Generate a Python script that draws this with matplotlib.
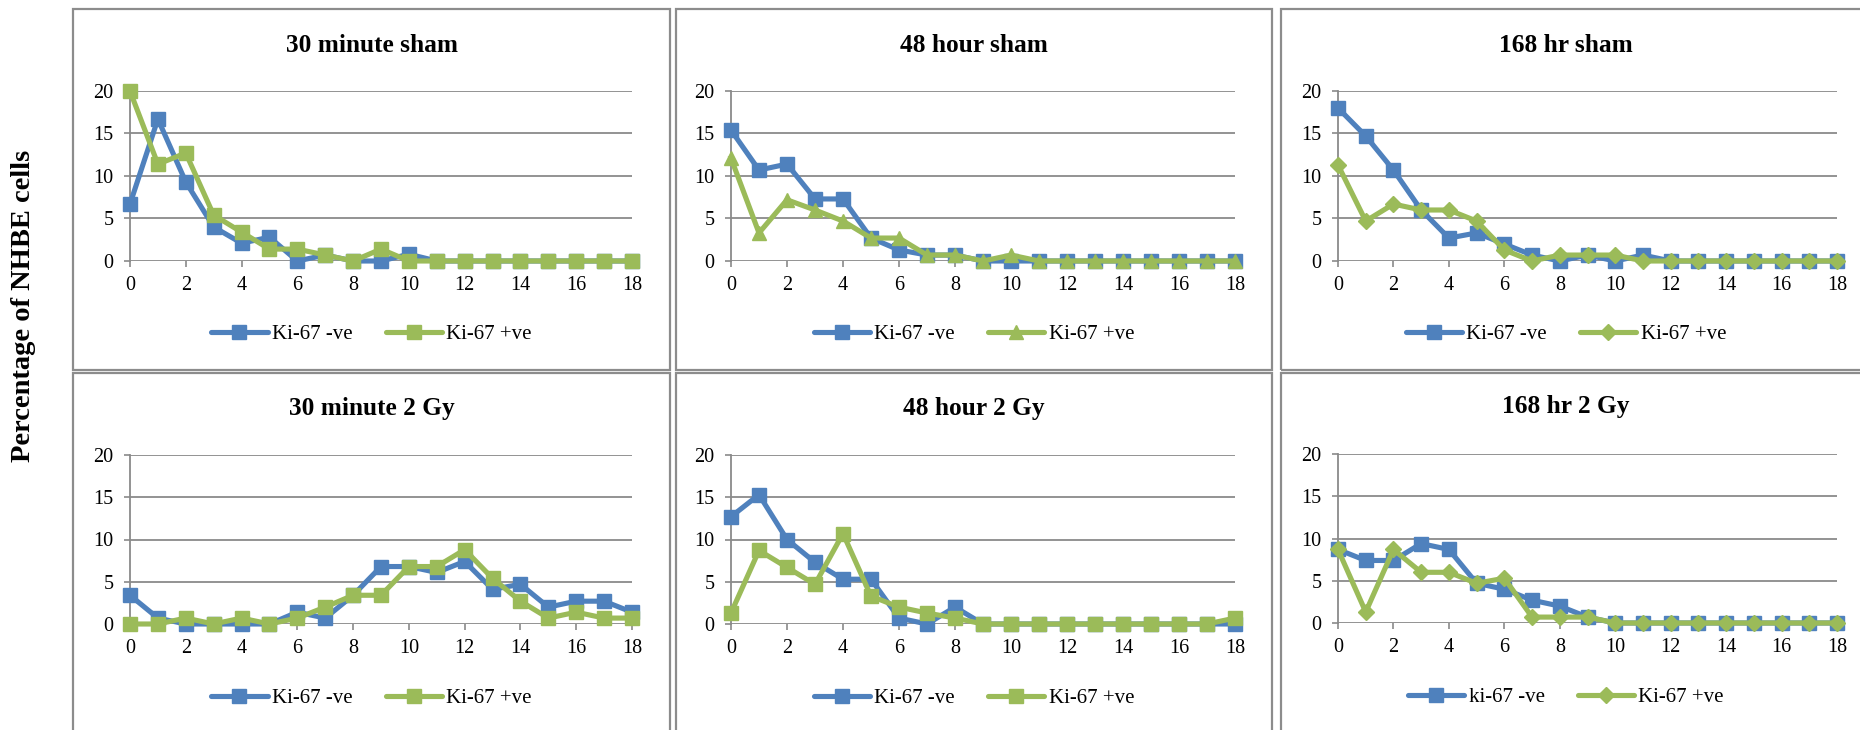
import matplotlib
matplotlib.use("Agg")
import matplotlib.pyplot as plt
from matplotlib.lines import Line2D
from matplotlib.patches import Rectangle

plt.rcParams["font.family"] = ["Liberation Serif", "DejaVu Serif"]

# ---- data -------------------------------------------------------------
bins = list(range(19))

sham30_neg = [6.7, 16.7, 9.3, 4.0, 2.1, 2.8, 0, 0.7, 0, 0, 0.8, 0, 0, 0, 0, 0, 0, 0, 0]
sham30_pos = [20.0, 11.4, 12.7, 5.4, 3.4, 1.4, 1.4, 0.7, 0, 1.4, 0, 0, 0, 0, 0, 0, 0, 0, 0]

sham48_neg = [15.4, 10.7, 11.4, 7.3, 7.3, 2.7, 1.3, 0.7, 0.7, 0, 0, 0, 0, 0, 0, 0, 0, 0, 0]
sham48_pos = [12.1, 3.3, 7.2, 6.0, 4.7, 2.7, 2.7, 0.7, 0.7, 0, 0.7, 0, 0, 0, 0, 0, 0, 0, 0]

sham168_neg = [18.0, 14.7, 10.7, 6.0, 2.7, 3.3, 2.0, 0.7, 0, 0.7, 0, 0.7, 0, 0, 0, 0, 0, 0, 0]
sham168_pos = [11.3, 4.7, 6.7, 6.0, 6.0, 4.7, 1.3, 0, 0.7, 0.7, 0.7, 0, 0, 0, 0, 0, 0, 0, 0]

gy30_neg = [3.4, 0.7, 0, 0, 0, 0, 1.4, 0.7, 3.4, 6.8, 6.8, 6.1, 7.4, 4.1, 4.7, 2.0, 2.7, 2.7, 1.4]
gy30_pos = [0, 0, 0.7, 0, 0.7, 0, 0.7, 2.0, 3.4, 3.4, 6.8, 6.8, 8.8, 5.4, 2.7, 0.7, 1.4, 0.7, 0.7]

gy48_neg = [12.7, 15.3, 10.0, 7.3, 5.3, 5.3, 0.7, 0, 2.0, 0, 0, 0, 0, 0, 0, 0, 0, 0, 0]
gy48_pos = [1.3, 8.7, 6.7, 4.7, 10.7, 3.3, 2.0, 1.3, 0.7, 0, 0, 0, 0, 0, 0, 0, 0, 0, 0.7]

gy168_neg = [8.7, 7.4, 7.4, 9.4, 8.7, 4.7, 4.0, 2.7, 2.0, 0.7, 0, 0, 0, 0, 0, 0, 0, 0, 0]
gy168_pos = [8.7, 1.3, 8.7, 6.0, 6.0, 4.7, 5.3, 0.7, 0.7, 0.7, 0, 0, 0, 0, 0, 0, 0, 0, 0]

titles = ["30 minute sham", "48 hour sham", "168 hr sham",
          "30 minute 2 Gy", "48 hour 2 Gy", "168 hr 2 Gy"]
neg_labels = ["Ki-67 -ve", "Ki-67 -ve", "Ki-67 -ve",
              "Ki-67 -ve", "Ki-67 -ve", "ki-67 -ve"]
pos_labels = ["Ki-67 +ve"] * 6
neg_series = [sham30_neg, sham48_neg, sham168_neg, gy30_neg, gy48_neg, gy168_neg]
pos_series = [sham30_pos, sham48_pos, sham168_pos, gy30_pos, gy48_pos, gy168_pos]
pos_markers = ["s", "^", "D", "s", "s", "D"]

y_ticks = [0, 5, 10, 15, 20]
x_ticks = list(range(0, 19, 2))

# ---- style ------------------------------------------------------------
BLUE = "#4F81BD"
GREEN = "#9BBB59"
GRID = "#8a8a8a"
FRAME = "#8c8c8c"
MSIZE = {"s": 9.5, "^": 10.5, "D": 8.5}

W, H = 1860, 730
fig = plt.figure(figsize=(W / 100, H / 100), dpi=100)

# panel frames (pixels: left, top, right, bottom)
frames = [(73, 9, 670, 370), (676, 9, 1272, 370), (1281, 9, 1875, 370),
          (73, 373, 670, 745), (676, 373, 1272, 745), (1281, 373, 1875, 745)]
# plot areas (pixels: x of bin 0, x of bin 18, y of 20, y of 0)
areas = [(130, 632, 91, 261), (731, 1235, 91, 261), (1338, 1837, 91, 261),
         (130, 632, 455, 624), (731, 1235, 455, 624), (1338, 1837, 454, 623)]
title_y = [45, 45, 45, 409, 409, 407]
legend_y = [334, 334, 334, 698, 698, 697]

for i in range(6):
    fl, ft, fr, fb = frames[i]
    fig.add_artist(Rectangle((fl / W, 1 - fb / H), (fr - fl) / W, (fb - ft) / H,
                             transform=fig.transFigure, fill=False,
                             edgecolor=FRAME, linewidth=1.6, clip_on=False))

    x0, x1, y1, y0 = areas[i]
    ax = fig.add_axes([x0 / W, 1 - y0 / H, (x1 - x0) / W, (y0 - y1) / H])
    ax.set_xlim(0, 18)
    ax.set_ylim(0, 20)
    ax.set_xticks(x_ticks)
    ax.set_yticks(y_ticks)
    for s in ["top", "right", "bottom"]:
        ax.spines[s].set_visible(False)
    ax.spines["left"].set_color(GRID)
    ax.spines["left"].set_linewidth(1.3)
    ax.grid(axis="y", color=GRID, linewidth=1.3)
    ax.set_axisbelow(True)
    ax.tick_params(axis="both", colors=GRID, labelcolor="black",
                   labelsize=14.5, length=4, width=1.2, direction="out")
    ax.tick_params(axis="y", pad=8)
    ax.tick_params(axis="x", pad=7)

    ax.plot(bins, neg_series[i], color=BLUE, linewidth=3.7, marker="s",
            markersize=MSIZE["s"], clip_on=False, zorder=3,
            solid_joinstyle="miter")
    ax.plot(bins, pos_series[i], color=GREEN, linewidth=3.7,
            marker=pos_markers[i], markersize=MSIZE[pos_markers[i]],
            clip_on=False, zorder=4, solid_joinstyle="miter")

    cx = (fl + min(fr, 1851)) / 2
    fig.text(cx / W, 1 - title_y[i] / H, titles[i], ha="center", va="center",
             fontsize=18.3, fontweight="bold")

    handles = [
        Line2D([], [], color=BLUE, linewidth=3.7, marker="s",
               markersize=MSIZE["s"], solid_capstyle="round"),
        Line2D([], [], color=GREEN, linewidth=3.7, marker=pos_markers[i],
               markersize=MSIZE[pos_markers[i]], solid_capstyle="round"),
    ]
    ax.legend(handles, [neg_labels[i], pos_labels[i]], loc="center",
              bbox_to_anchor=(cx / W, 1 - legend_y[i] / H),
              bbox_transform=fig.transFigure, ncol=2, frameon=False,
              fontsize=15, handlelength=2.7, handletextpad=0.2,
              columnspacing=1.6, borderaxespad=0, borderpad=0)

fig.text(24 / W, 1 - 306 / H, "Percentage of NHBE cells", rotation=90,
         ha="center", va="center", fontsize=20.5, fontweight="bold")

fig.savefig("out.png", dpi=100, facecolor="white")
